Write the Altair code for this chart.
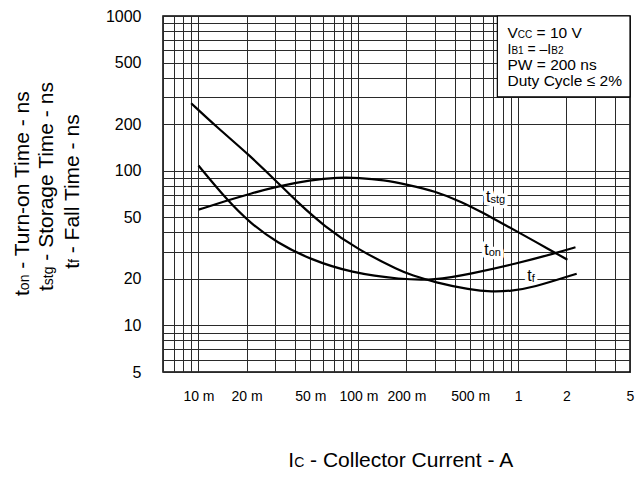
import altair as alt
import pandas as pd

# ---------------- data ----------------
ton_x = [0.01, 0.015, 0.021, 0.031, 0.05, 0.09, 0.185, 0.3, 0.5, 0.96, 1.72, 2.28]
ton_y = [108, 65, 46, 34.2, 26.7, 21.9, 19.8, 19.6, 21.5, 25.0, 29.4, 32]

tstg_x = [0.01, 0.015, 0.021, 0.031, 0.05, 0.075, 0.1, 0.145, 0.2, 0.3, 0.45, 0.6, 0.8, 1.03, 1.56, 2.03]
tstg_y = [56, 64, 71, 79, 87, 90.5, 90, 87, 81.5, 74, 62.5, 53.5, 45.5, 39.4, 31, 26.6]

tf_x = [0.009, 0.0129, 0.021, 0.0309, 0.0413, 0.0608, 0.0986, 0.185, 0.214, 0.3, 0.5, 0.686, 0.9, 1.22, 2.32]
tf_y = [273, 193, 125, 85, 63, 44, 31, 22.4, 21.2, 19.0, 17.0, 16.5, 16.7, 17.5, 21.6]

series_names = ["ton", "tstg", "tf"]

curve_label_main = ["t", "t", "t"]
curve_label_sub = ["stg", "on", "f"]
curve_label_x = [0.628, 0.612, 1.138]
curve_label_y = [63.0, 28.7, 19.4]

x_tick_values = [0.006, 0.007, 0.008, 0.009] + [i / 100 for i in range(1, 10)] + \
                [i / 10 for i in range(1, 10)] + [1, 2, 3, 4, 5]
x_tick_labels = {0.01: "10 m", 0.02: "20 m", 0.05: "50 m", 0.1: "100 m", 0.2: "200 m",
                 0.5: "500 m", 1: "1", 2: "2", 5: "5"}
y_tick_values = [5, 6, 7, 8, 9] + [i * 10 for i in range(1, 10)] + \
                [i * 100 for i in range(1, 10)] + [1000]
y_tick_labels = [5, 10, 20, 50, 100, 200, 500, 1000]

box_x = [0.74]
box_x2 = [5]
box_y = [300]
box_y2 = [1000]

# ---------------- helpers ----------------
FONT = "Liberation Sans"
W = {' ': 278, '-': 333, '=': 584, '–': 556, '≤': 549, '%': 889, 'A': 667, 'B': 667,
     'C': 722, 'D': 722, 'F': 611, 'I': 278, 'P': 667, 'S': 667, 'T': 611, 'V': 667, 'W': 944,
     'a': 556, 'c': 500, 'e': 556, 'f': 278, 'g': 556, 'i': 222, 'l': 222, 'm': 833, 'n': 556,
     'o': 556, 'r': 333, 's': 500, 't': 278, 'u': 556, 'y': 500}


def tw(text, size):
    return sum(W.get(ch, 556) for ch in text) * size / 1000.0


one = alt.Data(values=[{"a": 1}])


def pieces(parts, x0, y0, rotated=False):
    out = []
    off = 0.0
    for text, size in parts:
        lead = len(text) - len(text.lstrip(" "))
        off += tw(" " * lead, size)
        core = text.strip(" ")
        if rotated:
            px, py = x0, y0 - off
        else:
            px, py = x0 + off, y0
        out.append(
            alt.Chart(one).mark_text(
                font=FONT, fontSize=size, color="black", align="left",
                baseline="alphabetic", angle=270 if rotated else 0
            ).encode(x=alt.value(px), y=alt.value(py), text=alt.value(core))
        )
        off += tw(text[lead:], size)
    return out


def centered_rotated(parts, x0, yc):
    total = sum(tw(t, s) for t, s in parts)
    return pieces(parts, x0, yc + total / 2.0, rotated=True)


# ---------------- scales / axes ----------------
xscale = alt.Scale(type="log", domain=[0.006, 5], nice=False)
yscale = alt.Scale(type="log", domain=[5, 1000], nice=False)

x_expr = "".join(f"datum.value == {k} ? '{v}' : " for k, v in x_tick_labels.items()) + "''"
y_expr = "indexof(" + str(y_tick_labels) + ", datum.value) >= 0 ? '' + datum.value : ''"

xaxis = alt.Axis(values=x_tick_values, labelExpr=x_expr, title=None, grid=True, ticks=False,
                 domain=False, labelFont=FONT, labelFontSize=14, labelColor="black",
                 labelPadding=17, labelOverlap=False, labelFlush=False)
yaxis = alt.Axis(values=y_tick_values, labelExpr=y_expr, title=None, grid=True, ticks=False,
                 domain=False, labelFont=FONT, labelFontSize=16, labelColor="black",
                 labelPadding=22, labelOverlap=False, labelFlush=False)

# ---------------- curves ----------------
rows = []
for name, xs, ys in zip(series_names, [ton_x, tstg_x, tf_x], [ton_y, tstg_y, tf_y]):
    for xv, yv in zip(xs, ys):
        rows.append({"series": name, "I": xv, "t": yv})
df = pd.DataFrame(rows)

curves = alt.Chart(df).mark_line(color="black", strokeWidth=2.2, interpolate="basis").encode(
    x=alt.X("I:Q", scale=xscale, axis=xaxis),
    y=alt.Y("t:Q", scale=yscale, axis=yaxis),
    detail="series:N",
)

box_df = pd.DataFrame({"x1": box_x, "x2": box_x2, "y1": box_y, "y2": box_y2})
box = alt.Chart(box_df).mark_rect(fill="white", stroke="black", strokeWidth=1.2).encode(
    x=alt.X("x1:Q", scale=xscale, title=None),
    x2="x2:Q",
    y=alt.Y("y1:Q", scale=yscale, title=None),
    y2="y2:Q",
)

lab_df = pd.DataFrame({"x": curve_label_x, "y": curve_label_y,
                       "main": curve_label_main, "sub": curve_label_sub})


def lab_layer(field, size, dx, dy, halo):
    kw = dict(font=FONT, fontSize=size, align="left", baseline="alphabetic", dx=dx, dy=dy)
    if halo:
        kw.update(color="white", stroke="white", strokeWidth=7, strokeJoin="round")
    else:
        kw.update(color="black")
    return alt.Chart(lab_df).mark_text(**kw).encode(
        x=alt.X("x:Q", scale=xscale, title=None),
        y=alt.Y("y:Q", scale=yscale, title=None),
        text=f"{field}:N",
    )


labels = [lab_layer("main", 16, 0, 0, True), lab_layer("sub", 11, 4.6, 1, True),
          lab_layer("main", 16, 0, 0, False), lab_layer("sub", 11, 4.6, 1, False)]

# ---------------- titles & legend text ----------------
layers = [box] + labels[:2] + [curves] + labels[2:]

# y-axis title (three rotated lines)
layers += centered_rotated([("t", 21), ("on", 14), (" - Turn-on Time - ns", 21)], -133.7, 176.5)
layers += centered_rotated([("t", 21), ("stg", 14), (" - Storage Time - ns", 21)], -109.7, 170)
layers += centered_rotated([("t", 21), ("f", 14), (" - Fall Time - ns", 21)], -83.7, 175)

# x-axis title
layers += pieces([("I", 21), ("C", 14), (" - Collector Current - A", 21)], 125.3, 451)

# conditions box
layers += pieces([("V", 15.5), ("CC", 10), (" = 10 V", 15.5)], 344.5, 22)
layers += pieces([("I", 14), ("B1", 10), (" = –", 14), ("I", 14), ("B2", 10)], 344.5, 38)
layers += pieces([("PW = 200 ns", 15.5)], 344.5, 54)
layers += pieces([("Duty Cycle ≤ 2%", 15.5)], 344.5, 69.5)

chart = alt.layer(*layers).properties(
    width=467, height=356,
    autosize=alt.AutoSizeParams(type="none"),
    padding={"left": 155, "top": 8, "right": 5, "bottom": 101},
    background="white",
).configure_view(
    stroke="black", strokeWidth=1.5
).configure_axis(
    gridColor="#2a2a2a", gridWidth=1, gridOpacity=1
)

chart.save("out.html", embed_options={"renderer": "svg", "actions": False})
